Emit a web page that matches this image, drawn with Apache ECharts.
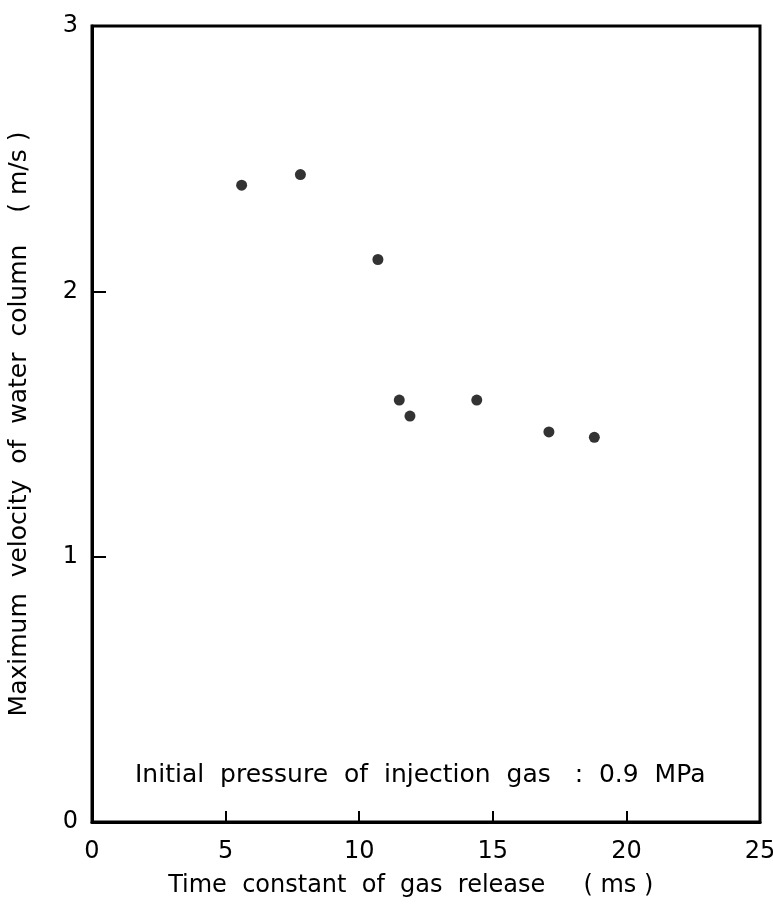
<!DOCTYPE html>
<html>
<head>
<meta charset="utf-8">
<script src="https://cdn.jsdelivr.net/npm/echarts@6/dist/echarts.min.js"></script>
<style>
html,body{margin:0;padding:0;background:#fff;}
#chart{width:773px;height:909px;}
</style>
</head>
<body>
<div id="chart"></div>
<script>
// Time constant of gas release (ms)
const timeConstant = [5.6, 7.8, 10.7, 11.5, 11.9, 14.4, 17.1, 18.8];
// Maximum velocity of water column (m/s)
const maxVelocity = [2.40, 2.44, 2.12, 1.59, 1.53, 1.59, 1.47, 1.45];
const xTicks = [0, 5, 10, 15, 20, 25];
const yTicks = [0, 1, 2, 3];
const xTitle = 'Time  constant  of  gas  release     ( ms )    ';
const yTitle = 'Maximum  velocity  of  water  column    ( m/s )';
const note = 'Initial  pressure  of  injection  gas   :  0.9  MPa';

const FONT = '"DejaVu Sans", sans-serif';
const chart = echarts.init(document.getElementById('chart'), null, {renderer: 'canvas'});
chart.setOption({
  backgroundColor: '#fff',
  animation: false,
  grid: {left: 92, right: 13, top: 26, bottom: 87, outerBoundsMode: 'none', containLabel: false,
         show: true, borderColor: '#000', borderWidth: 3},
  xAxis: {
    type: 'value', min: xTicks[0], max: xTicks[xTicks.length - 1], interval: 5,
    name: xTitle, nameLocation: 'middle', nameGap: 52,
    nameTextStyle: {fontFamily: FONT, fontSize: 24, color: '#000'},
    axisLine: {show: true, lineStyle: {color: '#000', width: 3}},
    axisTick: {show: true, inside: true, length: 11, lineStyle: {color: '#000', width: 2}},
    axisLabel: {fontFamily: FONT, fontSize: 24, color: '#000', margin: 18},
    splitLine: {show: false}
  },
  yAxis: {
    type: 'value', min: yTicks[0], max: yTicks[yTicks.length - 1], interval: 1,
    name: yTitle, nameLocation: 'middle', nameGap: 60, nameRotate: 90,
    nameTextStyle: {fontFamily: FONT, fontSize: 25, color: '#000'},
    axisLine: {show: true, lineStyle: {color: '#000', width: 3}},
    axisTick: {show: true, inside: true, length: 14, lineStyle: {color: '#000', width: 2}},
    axisLabel: {fontFamily: FONT, fontSize: 24, color: '#000', margin: 14},
    splitLine: {show: false}
  },
  graphic: [{
    type: 'text', left: 135, top: 763,
    style: {text: note, font: '25px ' + FONT, fill: '#000'}
  }],
  series: [{
    type: 'scatter',
    data: timeConstant.map((x, i) => [x, maxVelocity[i]]),
    symbol: 'circle', symbolSize: 11,
    itemStyle: {color: '#000'}
  }]
});
</script>
</body>
</html>
